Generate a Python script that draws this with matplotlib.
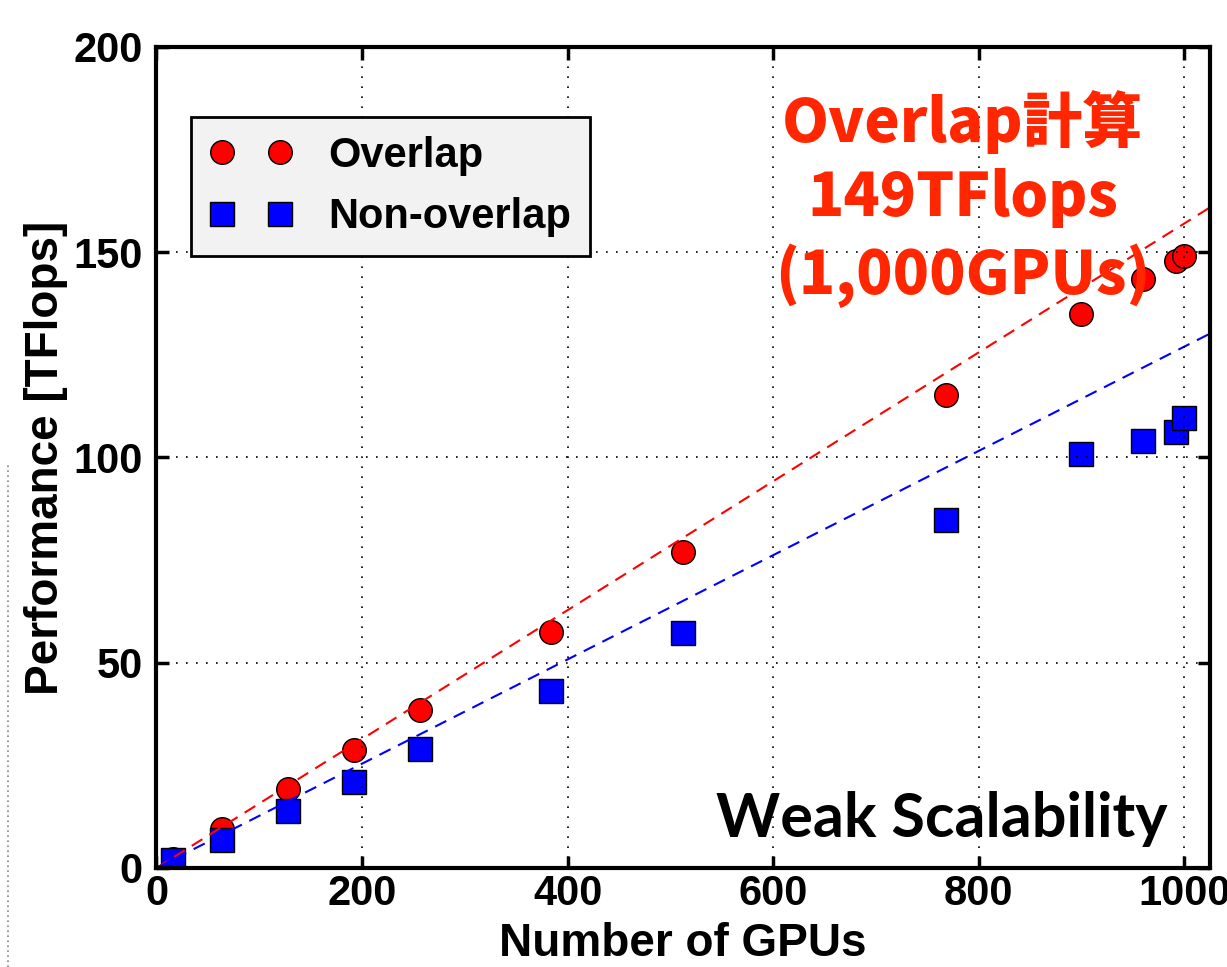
import numpy as np
import matplotlib.pyplot as plt
from matplotlib.lines import Line2D

plt.rcParams['font.family'] = ['Liberation Sans', 'DejaVu Sans']
plt.rcParams['font.weight'] = 'bold'

gpus = [16, 64, 128, 192, 256, 384, 512, 768, 900, 960, 992, 1000]
overlap = [2.3, 9.5, 19.2, 28.8, 38.5, 57.6, 77.0, 115.3, 135.0, 143.5, 147.8, 149.0]
non_overlap = [2.0, 6.9, 14.0, 20.9, 29.0, 43.0, 57.3, 84.8, 100.8, 104.0, 106.2, 109.5]

# ideal scaling rates [TFlops per GPU]
ideal_overlap = 0.157
ideal_non_overlap = 0.127

fig = plt.figure(figsize=(12.27, 9.67), dpi=100)
ax = fig.add_axes([0.1275, 0.1024, 0.8586, 0.849])

ax.plot(gpus, overlap, 'o', color='red', markersize=17, markeredgecolor='black',
        markeredgewidth=1, label='Overlap', zorder=2)
ax.plot(gpus, non_overlap, 's', color='blue', markersize=17, markeredgecolor='black',
        markeredgewidth=1, label='Non-overlap', zorder=2.1)

xmax = 1025
xs = np.array([0, xmax])
ax.plot(xs, ideal_overlap * xs, color='red', lw=1.5, dashes=(6, 4), zorder=2.5)
ax.plot(xs, ideal_non_overlap * xs, color='blue', lw=1.5, dashes=(6, 4), zorder=2.5)

ax.set_xlim(0, xmax)
ax.set_ylim(0, 200)
ax.set_xticks([0, 200, 400, 600, 800, 1000])
ax.set_yticks([0, 50, 100, 150, 200])

ax.grid(True, color='black', linestyle=(0, (1, 5)), linewidth=1.2, zorder=3)
ax.set_axisbelow(False)

for s in ax.spines.values():
    s.set_linewidth(3)
    s.set_zorder(5)
ax.tick_params(direction='in', length=9, width=2.5, top=True, right=True,
               labelsize=30)
ax.tick_params(axis='x', pad=4)
ax.tick_params(axis='y', pad=10)

ax.set_xlabel('Number of GPUs', fontsize=33, fontweight='bold', labelpad=6)
ax.set_ylabel('Performance [TFlops]', fontsize=33, fontweight='bold', labelpad=4)

leg = ax.legend(loc='upper left', bbox_to_anchor=(0.0327, 0.9147), borderaxespad=0,
                numpoints=2, fontsize=30, handlelength=2.0, handletextpad=0.85,
                borderpad=0.45, labelspacing=0.52, fancybox=False, framealpha=1,
                facecolor='#f2f2f2', edgecolor='black')
leg.get_frame().set_linewidth(2)
leg.set_zorder(6)

ax.text(0.765, 0.815, 'Overlap計算\n149TFlops\n(1,000GPUs)', transform=ax.transAxes,
        ha='center', va='center', color='#ff2600', fontsize=43, fontweight='heavy',
        family=['Noto Sans CJK JP', 'DejaVu Sans'], linespacing=1.3, zorder=4)

ax.text(0.96, 0.06, 'Weak Scalability', transform=ax.transAxes, ha='right',
        va='center', color='black', fontsize=44, fontweight='bold',
        family=['Lato', 'DejaVu Sans'], zorder=2.8)

# dotted edge left over from the slide
fig.add_artist(Line2D([8 / 1227, 8 / 1227], [0, 1 - 463 / 967], color='#888888',
                      lw=1.2, linestyle=(0, (1, 2))))

fig.savefig('out.png', dpi=100)
